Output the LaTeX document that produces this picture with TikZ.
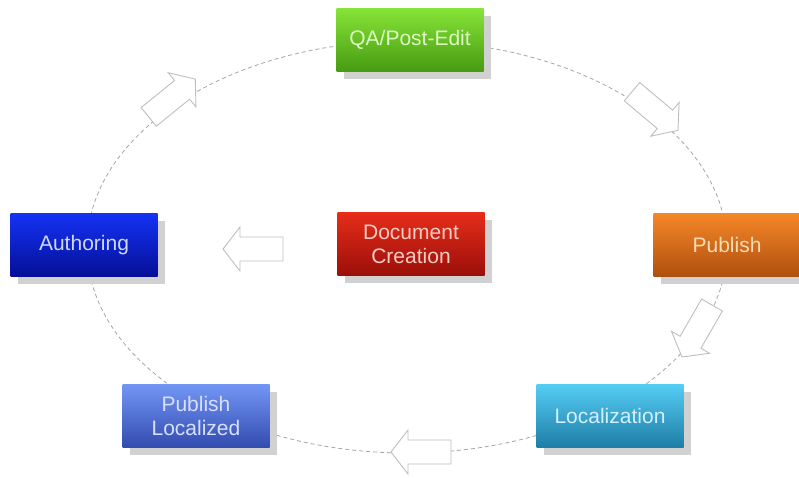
\documentclass[tikz,border=0pt]{standalone}
\usepackage{fontspec}
\setmainfont{Liberation Sans}
\begin{document}
\begin{tikzpicture}[x=1pt,y=-1pt,
  stepbox/.style={minimum width=147pt, minimum height=63pt, inner sep=0pt,
    align=center, font=\fontsize{21}{24}\selectfont},
  shadowbox/.style={fill=black!18},
  barrow/.style={draw=black!25, fill=white, line width=0.9pt, line join=miter},
  ring/.style={draw=black!35, dash pattern=on 4pt off 3pt, line width=0.8pt}]
\useasboundingbox (0,0) rectangle (799,477);
\fill[white] (0,0) rectangle (799,477);

% cycle path
\draw[ring] (407,247) ellipse [x radius=320, y radius=206];

% drop shadows of the boxes
\foreach \cx/\cy in {410/40, 84/245, 411/244, 727/245, 196/416, 610/416}
  \fill[shadowbox] (\cx+7-73.5,\cy+7-31.5) rectangle (\cx+7+73.5,\cy+7+31.5);

% process boxes
\node[stepbox, top color={rgb,255:red,135;green,228;blue,55}, bottom color={rgb,255:red,70;green,155;blue,18},
  text={rgb,255:red,220;green,248;blue,195}] (qa) at (410,40) {QA/Post-Edit};
\node[stepbox, top color={rgb,255:red,20;green,50;blue,245}, bottom color={rgb,255:red,5;green,15;blue,150},
  text={rgb,255:red,205;green,215;blue,255}] (auth) at (84,245) {Authoring};
\node[stepbox, top color={rgb,255:red,230;green,45;blue,25}, bottom color={rgb,255:red,155;green,15;blue,10},
  text={rgb,255:red,250;green,205;blue,195}] (doc) at (411,244) {Document\\Creation};
\node[stepbox, top color={rgb,255:red,245;green,135;blue,40}, bottom color={rgb,255:red,175;green,80;blue,15},
  text={rgb,255:red,250;green,220;blue,180}] (pub) at (727,245) {Publish};
\node[stepbox, top color={rgb,255:red,115;green,150;blue,245}, bottom color={rgb,255:red,50;green,75;blue,175},
  text={rgb,255:red,215;green,225;blue,255}] (publoc) at (196,416) {Publish\\Localized};
\node[stepbox, top color={rgb,255:red,85;green,205;blue,245}, bottom color={rgb,255:red,30;green,125;blue,165},
  text={rgb,255:red,210;green,240;blue,255}] (loc) at (610,416) {Localization};

% hollow block arrows along the cycle
\foreach \ax/\ay/\ang in {172/98/39, 655/111/-40, 253/249/180, 697/331/-120, 421/452/180}
  \draw[barrow, shift={(\ax,\ay)}, rotate=\ang]
    (-30,-12) -- (13,-12) -- (13,-22) -- (30,0) -- (13,22) -- (13,12) -- (-30,12) -- cycle;
\end{tikzpicture}
\end{document}
